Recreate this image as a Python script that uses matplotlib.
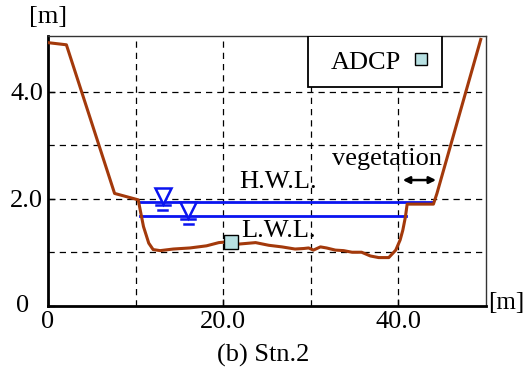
import matplotlib
matplotlib.use("Agg")
import matplotlib.pyplot as plt
from matplotlib.patches import Rectangle

plt.rcParams['font.family'] = ['Liberation Serif', 'DejaVu Serif']

# ---- data ----
bed_x = [0.0, 2.1, 7.6, 10.3, 10.9, 11.5, 12.0, 12.8, 14.3, 16.2, 18.1, 19.5, 20.9,
         21.6, 23.7, 25.2, 26.7, 28.2, 29.2, 29.75, 30.3, 31.1, 31.8, 32.8, 33.75,
         34.7, 35.8, 36.8, 37.75, 38.9, 39.7, 40.2, 40.5, 40.8, 41.0, 44.0, 44.4, 49.4]
bed_y = [4.92, 4.88, 2.10, 1.98, 1.48, 1.17, 1.05, 1.03, 1.06, 1.08, 1.12, 1.18, 1.20,
         1.15, 1.18, 1.13, 1.10, 1.06, 1.07, 1.08, 1.04, 1.10, 1.08, 1.04, 1.03,
         1.00, 1.00, 0.93, 0.90, 0.90, 1.04, 1.23, 1.41, 1.66, 1.90, 1.90, 2.10, 4.98]

hwl_x = [10.4, 44.0]
hwl_y = 1.94
lwl_x = [10.5, 40.9]
lwl_y = 1.68

adcp_x = [20.9]
adcp_y = [1.20]

x_ticks = [0, 20, 40]
x_ticklabels = ['0', '20.0', '40.0']
y_ticks = [0, 2, 4]
y_ticklabels = ['', '2.0', '4.0']

brown = '#a3390b'
blue = '#0a14f0'
adcp_color = '#b7e0e2'
FS = 19

fig = plt.figure(figsize=(5.26, 3.85), dpi=100)
ax = fig.add_axes([48/526, 1-305.7/385, (486-48)/526, (305.7-35.7)/385])
ax.set_xlim(0, 50)
ax.set_ylim(0, 5.05)

# grid
for gx in [10, 20, 30, 40]:
    ax.axvline(gx, color='black', lw=0.9, ls=(0, (5, 4)), zorder=1)
for gy in [1, 2, 3, 4]:
    ax.axhline(gy, color='black', lw=0.9, ls=(0, (5, 4)), zorder=1)

# water levels
ax.plot(hwl_x, [hwl_y, hwl_y], color=blue, lw=2.0, zorder=3)
ax.plot(lwl_x, [lwl_y, lwl_y], color=blue, lw=2.0, zorder=3)

def wl_symbol(x, y_line):
    ax.plot([x], [y_line + 0.11], marker='v', ms=11, mfc='white', mec=blue, mew=1.8,
            zorder=6, ls='none')
    ax.plot([x - 0.8, x + 0.8], [y_line - 0.06, y_line - 0.06], color=blue, lw=1.8, zorder=6)
    ax.plot([x - 0.5, x + 0.5], [y_line - 0.15, y_line - 0.15], color=blue, lw=1.8, zorder=6)

wl_symbol(13.1, hwl_y)
wl_symbol(16.0, lwl_y)

# bed profile
ax.plot(bed_x, bed_y, color=brown, lw=2.2, zorder=4)

# ADCP
ax.plot(adcp_x, adcp_y, marker='s', ms=9.5, mfc=adcp_color, mec='black', mew=1.0,
        ls='none', zorder=7)

# labels
ax.text(26.3, 2.31, 'H.W.L.', fontsize=FS, ha='center', va='center', zorder=8)
ax.text(26.3, 1.40, 'L.W.L.', fontsize=FS, ha='center', va='center', zorder=8)
ax.text(38.75, 2.63, 'vegetation', fontsize=FS, ha='center', va='baseline', zorder=8)
ax.annotate('', xy=(44.3, 2.35), xytext=(40.5, 2.35),
            arrowprops=dict(arrowstyle='<|-|>', color='black', lw=1.8,
                            mutation_scale=10, shrinkA=0, shrinkB=0), zorder=8)

# legend box
lx0 = (308.3 - 48) / 438
lx1 = (441.7 - 48) / 438
ly0 = (305.7 - 87.3) / 270
ly1 = 1.0
ax.add_patch(Rectangle((lx0, ly0), lx1 - lx0, ly1 - ly0, transform=ax.transAxes,
                       facecolor='white', edgecolor='black', lw=1.3, zorder=9))
ax.text((366 - 48) / 438, (305.7 - 63) / 270, 'ADCP', fontsize=FS, ha='center',
        va='center', transform=ax.transAxes, zorder=10)
ax.plot([(420.7 - 48) / 438], [(305.7 - 59.3) / 270], marker='s', ms=8.5, mfc=adcp_color,
        mec='black', mew=1.0, transform=ax.transAxes, zorder=10, ls='none')

# axes styling
ax.set_xticks(x_ticks)
ax.set_xticklabels(x_ticklabels, fontsize=FS)
ax.set_yticks(y_ticks)
ax.set_yticklabels(y_ticklabels, fontsize=FS)
ax.tick_params(direction='in', length=5, width=1.0, pad=3.5)
for s in ['left', 'bottom']:
    ax.spines[s].set_linewidth(2.0)
    ax.spines[s].set_color('black')
for s in ['top', 'right']:
    ax.spines[s].set_linewidth(1.0)
    ax.spines[s].set_color('#333333')

fig.text(23/526, 1-305.7/385, '0', fontsize=FS, ha='center', va='center')
fig.text(48.3/526, 1-16.7/385, '[m]', fontsize=FS, ha='center', va='center')
fig.text(524.5/526, 1-303/385, '[m]', fontsize=18, ha='right', va='center')
fig.text(263/526, 1-355/385, '(b) Stn.2', fontsize=FS, ha='center', va='center')

fig.savefig('out.png', dpi=100)
